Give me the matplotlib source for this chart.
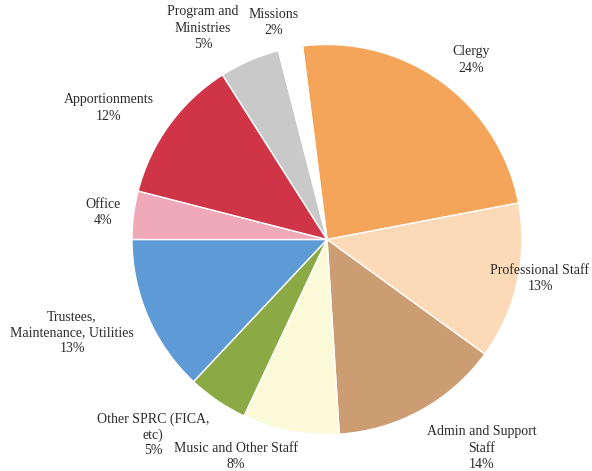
import matplotlib
matplotlib.use("Agg")
import matplotlib.pyplot as plt

categories = ["Clergy", "Professional Staff", "Admin and Support\nStaff",
              "Music and Other Staff", "Other SPRC (FICA,\netc)",
              "Trustees,\nMaintenance, Utilities", "Office", "Apportionments",
              "Program and\nMinistries", "Missions"]
values = [24, 13, 14, 8, 5, 13, 4, 12, 5, 2]
colors = ["#F5A55A", "#FCDAB8", "#CC9C72", "#FAFAD9", "#8BAA45",
          "#5D9AD6", "#EFA9B9", "#CF3447", "#C9C9CA", "#FFFFFF"]

# label centres in pixels (layout only)
label_px = [(471, 60), (540, 279), (482, 448), (236, 456), (153, 435),
            (72, 333), (103, 213), (109, 108), (203, 28), (274, 22)]
line_step = 16  # px between label lines

W, H = 592, 471
fig = plt.figure(figsize=(W / 100, H / 100), dpi=100)
cx, cy, r = 327, 239.5, 195
ax = fig.add_axes([(cx - r) / W, (H - cy - r) / H, 2 * r / W, 2 * r / H])
ax.pie(values, colors=colors, startangle=97.2, counterclock=False,
       radius=1, wedgeprops=dict(edgecolor="white", linewidth=1.0))
ax.set_xlim(-1, 1)
ax.set_ylim(-1, 1)
ax.set_aspect("equal")
ax.axis("off")

for cat, v, (px, py) in zip(categories, values, label_px):
    lines = cat.split("\n") + [f"{v}%"]
    n = len(lines)
    for i, line in enumerate(lines):
        y = py + (i - (n - 1) / 2) * line_step
        fig.text(px / W, 1 - y / H, line, ha="center", va="center",
                 fontsize=10, family="Liberation Serif", color="#2b2b2b")

fig.savefig("out.png", dpi=100)
